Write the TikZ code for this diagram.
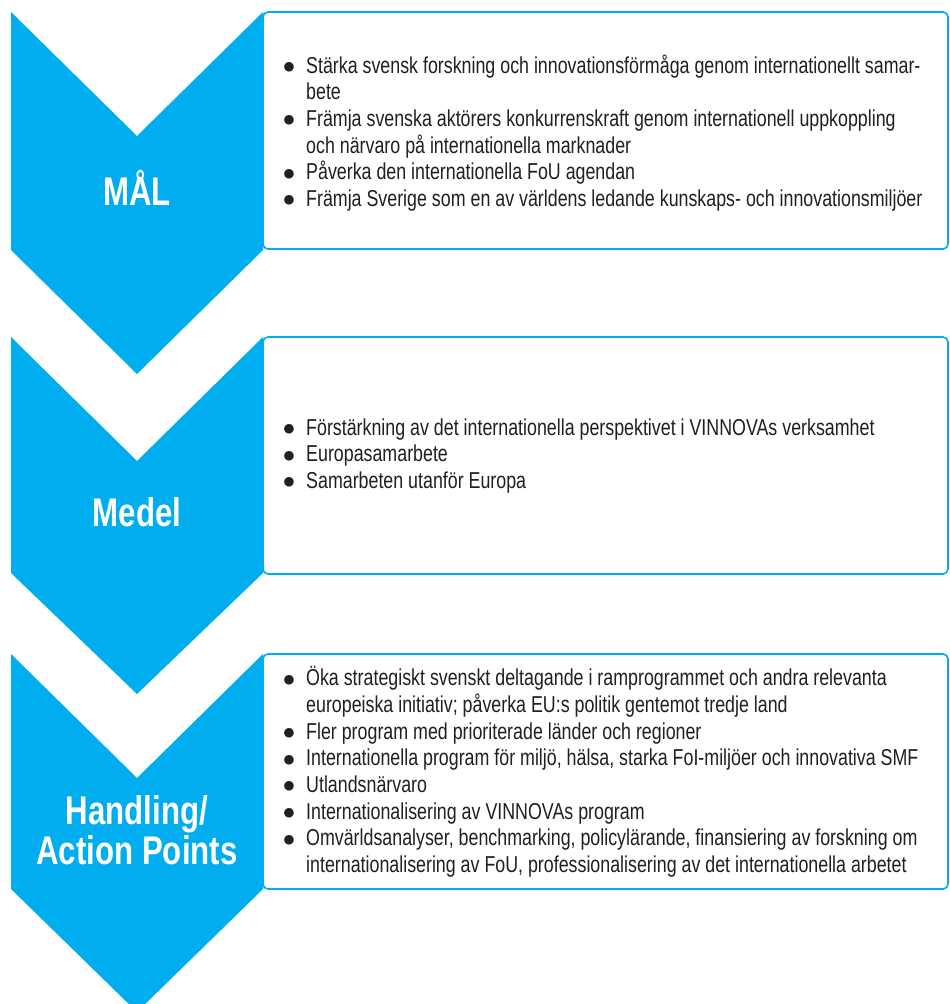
\documentclass[tikz,border=0pt]{standalone}
\usepackage{fontspec}
\setmainfont{Liberation Sans}
\newfontfamily\bodyfont[FakeStretch=0.775]{Liberation Sans}
\newfontfamily\titlefont[FakeStretch=0.78]{Liberation Sans}
\newfontfamily\dotfont{DejaVu Sans}
\definecolor{vblue}{RGB}{0,174,239}
\definecolor{vtext}{RGB}{35,31,32}
\newcommand\bul{\makebox[23pt][l]{\hspace*{0.5pt}\raisebox{2.8pt}{\dotfont\fontsize{12.5}{12.5}\selectfont ●}}}
\newcommand\cont{\hspace*{23pt}}
\tikzset{
  chev/.style={fill=vblue, draw=none},
  itembox/.style={draw=vblue, line width=1.6pt, fill=white, rounded corners=5pt},
  steptitle/.style={text=white, font=\titlefont\bfseries\fontsize{40}{40}\selectfont, align=center, inner sep=0pt},
  items/.style={text=vtext, font=\bodyfont\fontsize{23}{26.7}\selectfont, align=left, anchor=west, inner sep=0pt},
}
\begin{document}
\begin{tikzpicture}[x=1pt,y=-1pt]
\useasboundingbox (0,0) rectangle (950,1004);
\clip (0,0) rectangle (950,1004);
% chevrons
\fill[chev] (11,12) -- (137,136) -- (263,12) -- (263,250) -- (137,374) -- (11,250) -- cycle;
\fill[chev] (11,337) -- (137,461) -- (263,337) -- (263,573) -- (137,694) -- (11,573) -- cycle;
\fill[chev] (11,654) -- (137,778) -- (263,654) -- (263,889) -- (137,1012) -- (11,889) -- cycle;
% boxes
\draw[itembox] (263,12) rectangle (948,249);
\draw[itembox] (263,337) rectangle (948,574);
\draw[itembox] (263,654) rectangle (948,889);
% titles
\node[steptitle] (mal) at (137,188) {MÅL};
\node[steptitle] (medel) at (137,512) {Medel};
\node[steptitle] (handling) at (137,830) {Handling/\\Action Points};
% texts
\node[items] (malitems) at (283,133) {%
\bul Stärka svensk forskning och innovationsförmåga genom internationellt samar-\\
\cont bete\\
\bul Främja svenska aktörers konkurrenskraft genom internationell uppkoppling\\
\cont och närvaro på internationella marknader\\
\bul Påverka den internationella FoU agendan\\
\bul Främja Sverige som en av världens ledande kunskaps- och innovationsmiljöer};
\node[items] (medelitems) at (283,456) {%
\bul Förstärkning av det internationella perspektivet i VINNOVAs verksamhet\\
\bul Europasamarbete\\
\bul Samarbeten utanför Europa};
\node[items] (handlingitems) at (283,772) {%
\bul Öka strategiskt svenskt deltagande i ramprogrammet och andra relevanta\\
\cont europeiska initiativ; påverka EU:s politik gentemot tredje land\\
\bul Fler program med prioriterade länder och regioner\\
\bul Internationella program för miljö, hälsa, starka FoI-miljöer och innovativa SMF\\
\bul Utlandsnärvaro\\
\bul Internationalisering av VINNOVAs program\\
\bul Omvärldsanalyser, benchmarking, policylärande, finansiering av forskning om\\
\cont internationalisering av FoU, professionalisering av det internationella arbetet};
\end{tikzpicture}
\end{document}
